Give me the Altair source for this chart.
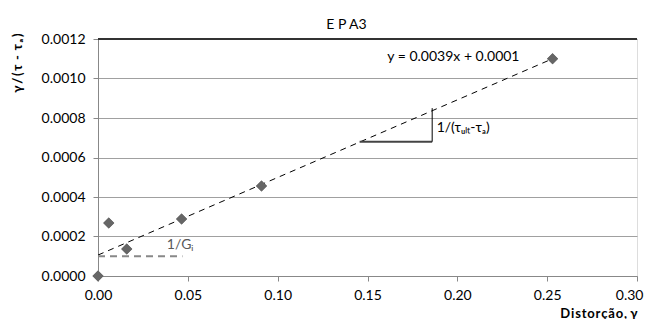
import altair as alt
import pandas as pd

# Data points
strain = [0.0, 0.006, 0.016, 0.0465, 0.091, 0.253]
ratio = [0.0, 0.000268, 0.000137, 0.000289, 0.000456, 0.00110]

# Linear trend line (y = 0.0039x + 0.0001)
trend_x = [0.0, 0.253]
trend_y = [0.000106, 0.00110]

# 1/Gi dashed line
gi_x = [0.0, 0.047]
gi_y = [0.0001, 0.0001]

# slope triangle
tri_h_x = [0.1456, 0.186]
tri_h_y = [0.00068, 0.00068]
tri_v_x = [0.186, 0.186]
tri_v_y = [0.00068, 0.00085]

# tick values
x_ticks = [0, 0.05, 0.1, 0.15, 0.2, 0.25, 0.3]
y_ticks = [0, 0.0002, 0.0004, 0.0006, 0.0008, 0.0010, 0.0012]

# annotation texts
NB = "\u00a0"
ann_text = ["y" + NB + "=" + NB + "0.0039x" + NB + "+" + NB + "0.0001", "1/(τᵤₗₜ-τₐ)", "1/Gᵢ"]
ann_x = [0.161, 0.1885, 0.0383]
ann_y = [0.00111, 0.00075, 0.000157]


def spaced(s, sep):
    return sep.join(list(s))


FONT = "Lato"

xs = alt.Scale(domain=[0, 0.3], nice=False, zero=False)
ys = alt.Scale(domain=[0, 0.0012], nice=False, zero=False)

pts = pd.DataFrame({"x": strain, "y": ratio})
trend = pd.DataFrame({"x": trend_x, "y": trend_y})
gi = pd.DataFrame({"x": gi_x, "y": gi_y})
th = pd.DataFrame({"x": tri_h_x, "y": tri_h_y})
tv = pd.DataFrame({"x": tri_v_x, "y": tri_v_y})
ann = pd.DataFrame({"t": ann_text, "x": ann_x, "y": ann_y})

x_axis = alt.Axis(
    values=x_ticks, format=".2f",
    title=spaced("Distorção,", "\u200a") + NB + "γ", titleFont=FONT, titleFontSize=13,
    titleFontWeight="bold",
    titleColor="#000", titleAlign="right", titleAnchor="end", titleX=539, titleY=37,
    titleBaseline="middle",
    labelFont=FONT, labelFontSize=14, labelColor="#000", labelPadding=7,
    labelFlush=False, labelOverlap=False,
    labelAlign={"condition": {"test": "datum.value >= 0.3", "value": "right"}, "value": "center"},
    labelOffset={"condition": {"test": "datum.value >= 0.3", "value": 6}, "value": 0},
    grid=False, domainColor="#888", tickColor="#888", tickSize=5,
)
y_axis = alt.Axis(
    values=y_ticks, format=".4f",
    title=spaced("γ/(τ", "\u2009") + "\u2009" + NB + "-" + NB + "\u2009" + spaced("τₐ)", "\u2009"),
    titleFont=FONT, titleFontSize=13, titleFontWeight="bold",
    titleColor="#000", titleAngle=-90, titleAlign="right", titleX=-81, titleY=-6,
    titleBaseline="middle",
    labelFont=FONT, labelFontSize=14, labelColor="#000", labelPadding=8,
    labelFlush=False, labelOverlap=False,
    grid=True, gridColor="#a0a0a0", domainColor="#888", tickColor="#888", tickSize=5,
)

X = alt.X("x:Q", scale=xs, axis=x_axis)
Y = alt.Y("y:Q", scale=ys, axis=y_axis)

base_pts = alt.Chart(pts).mark_point(
    shape="diamond", filled=True, color="#666666", size=121, opacity=1
).encode(x=X, y=Y)

top_rule = alt.Chart(pd.DataFrame({"y": [0.0012]})).mark_rule(
    color="#333333", strokeWidth=2
).encode(y=Y)

trend_line = alt.Chart(trend).mark_line(
    color="#000000", strokeWidth=1, strokeDash=[6, 5]
).encode(x=X, y=Y)

gi_line = alt.Chart(gi).mark_line(
    color="#888888", strokeWidth=2, strokeDash=[7, 5]
).encode(x=X, y=Y)

th_line = alt.Chart(th).mark_line(color="#444444", strokeWidth=2).encode(x=X, y=Y)
tv_line = alt.Chart(tv).mark_line(color="#000000", strokeWidth=1).encode(x=X, y=Y)

eq_text = alt.Chart(ann.iloc[[0]]).mark_text(
    align="left", baseline="middle", font=FONT, fontSize=14, color="#000"
).encode(x=X, y=Y, text="t:N")
tau_text = alt.Chart(ann.iloc[[1]]).mark_text(
    align="left", baseline="middle", font=FONT, fontSize=14, color="#000"
).encode(x=X, y=Y, text="t:N")
gi_text = alt.Chart(ann.iloc[[2]]).mark_text(
    align="left", baseline="middle", font=FONT, fontSize=14, color="#595959"
).encode(x=X, y=Y, text="t:N")

chart = alt.layer(
    base_pts, top_rule, trend_line, gi_line, th_line, tv_line, base_pts,
    eq_text, tau_text, gi_text
).properties(
    width=539, height=237,
    autosize=alt.AutoSizeParams(type="none"),
    padding={"left": 90, "top": 31, "right": 7, "bottom": 43},
    title=alt.TitleParams("E P A3", font=FONT, fontSize=14, fontWeight="normal",
                          color="#000", dx=-21, offset=0),
).configure_view(stroke="#888888", strokeWidth=1).configure(background="white")

chart.save("out.html", embed_options={"renderer": "svg", "actions": False})
